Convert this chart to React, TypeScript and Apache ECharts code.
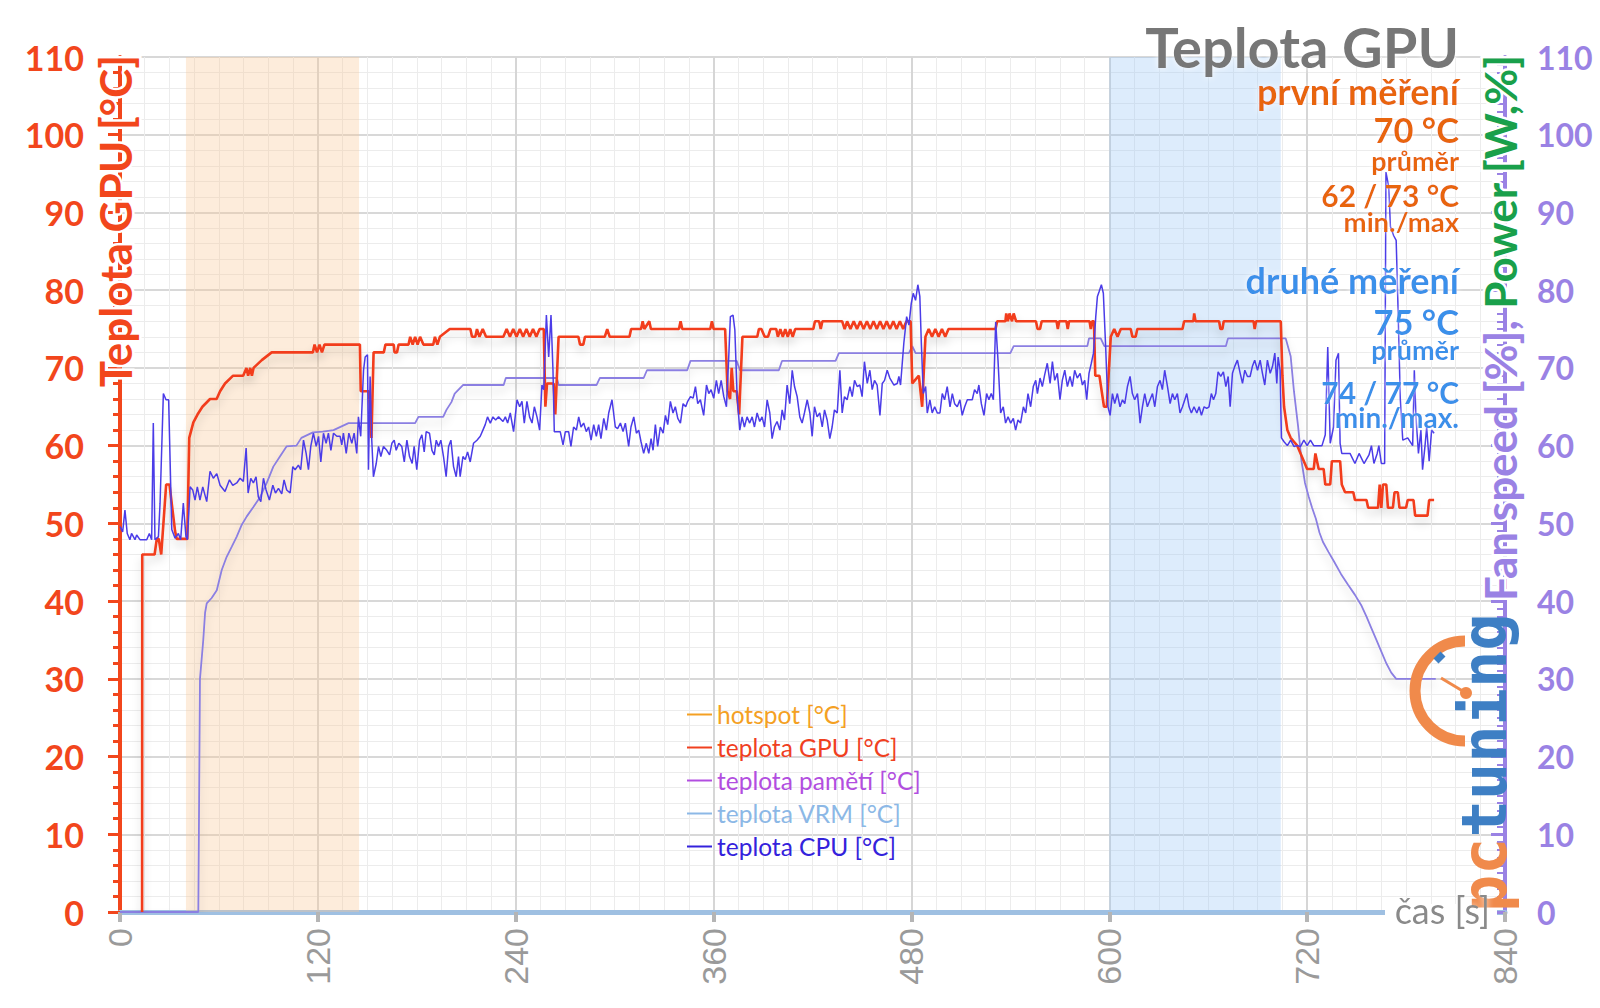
import React, { useEffect, useRef } from "react";
import * as echarts from "echarts";

// ---- axes ----
const X_MIN = 0;
const X_MAX = 840;
const X_STEP = 120;
const Y_MIN = 0;
const Y_MAX = 110;
const Y_STEP = 10;

// ---- legend ----
const legendNames = ["hotspot [°C]", "teplota GPU [°C]", "teplota pamětí [°C]", "teplota VRM [°C]", "teplota CPU [°C]"];
const legendColors = ["#f4a023", "#f0401f", "#b24ee0", "#8cb8e6", "#3422dc"];
const fanName = "otáčky ventilátoru [%]";

// ---- measurement windows [s] ----
const firstWindow = [40, 145];
const secondWindow = [600, 704];

// ---- series: [time s, value] ----
const gpuTemp: [number, number][] = [
  [13.4, 0], [13.5, 46], [21, 46], [22.3, 48], [23.5, 48], [25, 46], [28, 55], [30, 55], [33.4, 49], [34.4, 48], [40.8, 48],
  [42, 61], [44.5, 63], [47, 64], [50, 65], [54.6, 66], [58.6, 66], [60.7, 67], [63.7, 68], [68.6, 69], [74.7, 69], [76.7, 70],
  [77.7, 69], [79, 70], [80, 69], [81, 70], [86, 71], [92, 72], [117, 72], [118, 73], [119.5, 72], [121, 73], [122.5, 72], [124, 73],
  [145.5, 73], [146, 67], [151, 67], [152.5, 61], [153.8, 72], [160, 72], [161, 73], [166, 73], [166.5, 72], [168, 72], [169, 73],
  [175, 73], [176, 74], [177.5, 73], [179, 74], [180.5, 73], [182, 74], [184, 73], [190, 73], [191, 74], [192.5, 73], [194, 74],
  [200, 75], [212.5, 75], [213.5, 74], [215.5, 74], [216.5, 75], [218, 74], [220, 75], [222, 74], [232.5, 74], [234.5, 75],
  [236.5, 74], [238.5, 75], [240.5, 74], [242.5, 75], [244.5, 74], [246.5, 75], [248.5, 74], [250.5, 75], [252.5, 74], [254.5, 75],
  [257, 75], [258, 65], [259, 68], [263, 68], [264, 64], [266, 74], [278, 74], [279, 73], [281, 73], [282, 74], [294, 74],
  [295.5, 75], [297, 74], [309, 74], [310, 75], [316, 75], [317, 76], [318, 75], [321, 76], [322, 75], [339, 75], [340, 76],
  [341, 75], [358, 75], [359, 76], [360, 75], [367, 75], [368.5, 67], [370, 66], [371, 70], [372, 67], [374, 67], [375.5, 64],
  [377.5, 74], [386.5, 74], [387.5, 75], [389, 75], [391, 74], [393, 74], [394.5, 75], [398, 75], [399, 74], [400.5, 75],
  [402, 74], [403.5, 75], [405, 74], [406.5, 75], [408, 74], [409.5, 75], [420.5, 75], [421.5, 76], [424, 76], [425, 75],
  [426, 76], [438, 76], [439.5, 75], [441, 76], [443, 75], [445, 76], [447, 75], [449, 76], [451, 75], [453, 76], [455, 75],
  [457, 76], [459, 75], [461, 76], [463, 75], [465, 76], [467, 75], [469, 76], [471, 75], [473, 76], [475, 75], [477, 76],
  [479.5, 76], [480.5, 68], [484.5, 69], [486.5, 65], [488.5, 74], [490.5, 75], [492.5, 74], [494.5, 75], [496.5, 74],
  [498.5, 75], [500.5, 74], [502.5, 75], [531, 75], [532, 76], [537, 76], [537.5, 77], [538.5, 76], [539.5, 77], [541, 76],
  [542, 77], [543.5, 76], [555.5, 76], [556.5, 75], [558, 75], [559, 76], [568, 76], [568.8, 75], [569.6, 76], [574, 76],
  [574.8, 75], [575.6, 76], [588, 76], [588.8, 75], [589.6, 76], [590.7, 76], [591.5, 69], [594, 69], [596.8, 65], [598.5, 65],
  [600.9, 74], [603, 75], [605, 74], [607, 75], [613, 75], [614, 74], [616, 74], [617, 75], [644.4, 75], [645.4, 76], [651, 76],
  [651.5, 77], [652.3, 76], [666.6, 76], [667.4, 75], [668.6, 75], [669.4, 76], [687.5, 76], [688.2, 75], [689, 76], [704, 76],
  [705, 69], [706, 65], [708, 62], [710, 61], [712, 60.5], [714, 60], [716, 59], [718, 58], [720, 57], [724, 57], [725, 59],
  [727, 57], [730, 57], [731, 55], [734, 55], [735, 58], [740, 58], [741, 55], [743, 54], [748, 54], [749, 53], [756, 53],
  [757, 52], [763, 52], [764, 55], [765, 52], [766, 55], [768, 55], [769, 52], [772, 52], [773, 54], [775, 54], [776, 52],
  [780, 52], [781, 53], [784.5, 53], [785.5, 51], [793, 51], [794, 53], [797, 53],
];

const cpuTemp: [number, number][] = [
  [0, 49.6], [1.6, 48.9], [3, 51.7], [4.4, 48.7], [6, 47.9], [7, 48.7], [9.1, 47.9], [10.1, 48.5], [12.1, 47.9], [16.2, 47.9],
  [17.8, 48.7], [19.2, 47.9], [20.2, 62.9], [21.2, 47.9], [23.3, 48.3], [24.3, 52.6], [26.3, 66.7], [27.9, 65.9], [29.5, 65.9],
  [31.4, 49.2], [33.4, 48.1], [35.4, 48.7], [36.8, 47.9], [38.4, 52.6], [40, 48.3], [40.9, 47.9], [42.5, 54.7], [44.1, 54.3],
  [45.5, 53], [46.9, 54.7], [48.5, 53], [50.2, 54.7], [52.6, 52.8], [54.6, 56.7], [56.6, 55.8], [58.7, 56.4], [60.7, 54.9],
  [63.7, 54.1], [66.4, 55.6], [68.4, 54.9], [70.8, 55.2], [72.8, 55.8], [74.8, 55.4], [76.5, 59.7], [77.7, 53.9], [79.3, 55.8],
  [80.9, 55.2], [82.5, 56], [83.9, 53.4], [85.4, 52.8], [87, 55.8], [88.6, 54.3], [90.6, 53], [92.7, 54.9], [94.3, 53.9],
  [96.1, 54.5], [98.1, 53.8], [99.5, 55.6], [101.1, 54.3], [103.2, 53.9], [104.8, 57.3], [106.2, 56.9], [108.2, 57.5],
  [109.6, 56.9], [111.3, 60.7], [112.9, 59], [114.3, 56.9], [115.7, 59.9], [117.3, 61.6], [119, 59.9], [120.4, 61.2],
  [121.8, 57.9], [123.4, 61.6], [125, 60.3], [126.4, 61.6], [127.9, 59.4], [129.5, 61.6], [131.5, 61.2], [133.5, 61.2],
  [134.5, 60.1], [135.5, 61.6], [137.2, 59], [138.8, 61.6], [140.6, 60.3], [142, 61.6], [143.6, 59], [144.6, 63.7], [146, 61.2],
  [147.7, 69.7], [148.7, 71.4], [150.1, 71.7], [150.7, 56.9], [151.7, 68.9], [152.7, 60.7], [153.7, 56], [155.4, 57.7],
  [156.8, 59.9], [158.2, 58.6], [159.8, 59.9], [161.8, 59.4], [163.5, 58.8], [164.9, 60.3], [166.3, 60.7], [167.5, 59.4],
  [169.1, 60.3], [170.9, 59.9], [172.4, 57.9], [174, 60.7], [175.6, 58.6], [177.2, 57.7], [178.4, 59.9], [180, 56.9],
  [181.7, 60.7], [183.1, 61.4], [184.5, 59.2], [185.7, 61.8], [187.7, 61.6], [189.2, 59.4], [190.6, 58.8], [191.8, 60.7],
  [193.2, 59.9], [194.6, 60.7], [196.2, 58.6], [197.8, 56], [199.3, 59.9], [200.7, 60.7], [202.3, 57.3], [203.9, 56],
  [205.3, 58.6], [206.3, 56], [208, 58.6], [209.4, 58.2], [210.8, 59.2], [212.4, 57.9], [214.4, 60.3], [216.5, 60.7],
  [218.5, 61.2], [220.1, 62], [221.5, 62.7], [222.9, 63.7], [224.6, 62.9], [226.2, 63.7], [227.8, 63.3], [229.6, 63.7],
  [232.3, 63.1], [233.7, 63.7], [235.1, 62.9], [236.7, 64.2], [238.7, 61.8], [240.8, 65.9], [242.4, 65], [243.8, 65.7],
  [245.2, 62.9], [246.8, 65.7], [248.4, 63.7], [249.9, 62.9], [251.3, 65], [252.9, 63.7], [254.5, 62], [255.9, 67.8],
  [257, 67.2], [258.6, 76.8], [260, 71.4], [261.4, 76.8], [262.6, 69.7], [263.4, 61.8], [265, 61.8], [267, 61.8], [268.7, 60.1],
  [270.1, 61.8], [272.1, 61.8], [273.5, 59.9], [275.1, 62.4], [276.8, 62], [278.2, 63.7], [279.6, 62.4], [281.2, 62.9],
  [282.8, 61.8], [284.2, 62.4], [285.7, 60.7], [287.3, 62.7], [288.9, 61.2], [290.3, 62.7], [291.7, 60.9], [293.4, 63.5],
  [295, 62], [296.4, 64.2], [298.4, 65.9], [300.4, 62.4], [301.8, 62.2], [303.5, 62.9], [305.1, 61.8], [306.5, 62.9],
  [308.5, 59.9], [309.9, 62.4], [311.6, 63.7], [313.2, 61.6], [314.6, 62], [316, 60.5], [317.6, 59], [319.2, 60.3], [320.7, 59],
  [322.1, 60.9], [323.3, 59.4], [324.7, 62.7], [326.1, 59.9], [327.7, 62.4], [329.4, 61.6], [330.8, 63.9], [332.2, 62.7],
  [333.8, 65.7], [335.4, 64.2], [336.8, 65], [338.3, 63.5], [339.9, 62.9], [341.5, 65.4], [343.1, 65], [344.3, 65.7],
  [346, 66.3], [347.6, 66.1], [349, 67.6], [350.4, 65.4], [352, 65.9], [354, 63.9], [355.7, 67.8], [357.1, 66.7], [358.5, 67.2],
  [360.1, 66.1], [361.7, 68.4], [363.1, 66.7], [364.6, 68.4], [366.2, 66.3], [367.8, 65], [369.2, 71.4], [370.2, 76.6],
  [371.8, 76.8], [372.9, 74.9], [374.3, 66.3], [375.9, 62], [377.3, 63.7], [378.7, 62.4], [380.3, 63.7], [381.9, 62.9],
  [383.4, 63.7], [384.8, 62.4], [386.4, 64.2], [388, 63.1], [389.4, 63.7], [390.9, 62.4], [392.5, 65.9], [394.1, 64.2],
  [395.5, 60.9], [396.9, 62.4], [398.5, 63.1], [400.2, 62], [401.6, 64.6], [403, 63.3], [404.6, 67.8], [406.2, 65.4],
  [407.7, 69.7], [409.1, 67.6], [410.7, 66.3], [412.3, 63.7], [413.7, 62.9], [415.1, 64.2], [416.8, 65.9], [418.4, 64.2],
  [419.8, 61.2], [421.2, 65], [422.8, 63.7], [424.4, 64.2], [425.9, 62.4], [427.3, 64.6], [428.9, 63.3], [430.5, 60.9],
  [431.9, 62.4], [433.3, 64.6], [435, 64.2], [436.6, 69.7], [438, 64.2], [439.4, 66.3], [441, 65.9], [442.7, 67.6],
  [444.1, 66.3], [445.5, 68.4], [447.1, 67.6], [448.7, 67.8], [450.1, 66.3], [451.5, 70.8], [453.2, 68], [454.8, 69.7],
  [456.2, 67.2], [457.6, 68.4], [459.2, 67.8], [460.9, 63.9], [462.3, 68], [463.7, 68.4], [465.3, 69.7], [466.9, 68.7],
  [469.4, 67.8], [471.4, 68], [472.4, 68.9], [473.4, 67.8], [475.4, 73.2], [477.1, 76.6], [478.5, 75.5], [479.9, 78.3],
  [481.1, 79.6], [482.5, 78.7], [483.9, 80.7], [485.1, 79.2], [486, 73.2], [487.2, 66.7], [488.6, 67.6], [489.6, 64.2],
  [491.2, 65.9], [492.6, 64.2], [494.1, 65], [495.7, 64.2], [497.3, 64.2], [498.7, 66.7], [500.1, 65.9], [501.7, 67.6],
  [503.4, 65], [504.8, 66.7], [506.2, 65.4], [507.8, 65], [509.4, 65.9], [510.8, 63.9], [512.3, 65], [513.9, 65.9],
  [516.9, 65.9], [518.3, 67.2], [519.9, 66.7], [520.9, 67.8], [522.4, 65.4], [524, 63.9], [525.6, 66.7], [527, 65.9],
  [528.4, 66.7], [529.7, 65.9], [531.1, 75.9], [532.5, 71], [534.1, 64.2], [535.7, 65], [537.1, 62.9], [538.6, 63.7],
  [540.2, 62.9], [541.8, 63.5], [543.2, 62], [544.6, 63.3], [546.2, 62.9], [547.9, 65], [549.3, 64.2], [550.7, 66.7],
  [552.3, 65], [553.9, 67.6], [555.4, 68.4], [556.4, 66.7], [558, 68.7], [559.4, 67.6], [560.8, 69.1], [562.4, 70.6],
  [564.1, 68], [565.5, 70.8], [566.9, 68.4], [568.5, 69.3], [570.1, 65.9], [571.5, 68.4], [573, 69.7], [574.6, 67.6],
  [576.2, 68.9], [577.6, 67.6], [579, 69.7], [580.6, 68.7], [582.3, 69.3], [583.7, 67.8], [585.1, 68.4], [586.3, 65.9],
  [587.7, 69.3], [589.1, 70.6], [590.4, 71.9], [591.8, 76.6], [592.8, 79.2], [593.8, 79.8], [595.2, 80.7], [596.4, 79.6],
  [597.8, 72.7], [599.2, 65], [600.5, 63.9], [601.9, 66.7], [603.3, 65.4], [604.9, 66.7], [606.5, 65], [608, 65.9],
  [609.4, 65.4], [611, 67.6], [612.6, 68.9], [614, 66.7], [615.4, 65.9], [617.1, 66.7], [618.7, 62.9], [620.1, 65],
  [621.5, 66.7], [623.1, 65], [624.7, 65.9], [626.2, 66.7], [627.6, 65], [629.2, 67.6], [630.8, 68.4], [632.2, 67.2],
  [633.6, 69.7], [635.3, 67.6], [636.9, 65.4], [638.3, 66.7], [639.7, 65.9], [641.3, 66.7], [642.9, 64.2], [644.4, 65],
  [645.8, 65.9], [647, 66.7], [648.4, 65], [649.8, 64.2], [651.4, 65], [653.1, 64.2], [654.5, 65], [655.9, 63.9], [657.5, 65],
  [659.1, 64.8], [660.5, 65], [661.9, 66.7], [663.2, 65.9], [664.6, 66.7], [666, 69.5], [667.6, 68.9], [669.2, 69.5],
  [670.7, 67.6], [672.1, 68.9], [673.3, 65], [674.7, 69.3], [676.1, 70.2], [677.7, 71], [679.4, 69.3], [680.8, 68],
  [682.2, 69.7], [683.8, 68.9], [685.4, 68.9], [686.8, 70.2], [688.2, 71], [689.9, 69.7], [691.5, 71], [692.9, 69.3],
  [694.3, 67.8], [695.9, 71], [697.6, 69.3], [699, 70.2], [700.4, 71.9], [701.6, 68], [702.4, 71.4], [703.6, 69.7],
  [704.4, 61], [706, 60.5], [708, 60], [710, 60.7], [712, 59.9], [714, 60], [716, 59.9], [718, 60.7], [720, 60], [722, 60.7],
  [724, 60], [727, 60], [729, 60], [731, 61.4], [732.5, 72.7], [734, 60.3], [736, 62.4], [737.5, 71], [739, 71.9], [740, 60.3],
  [741, 59], [746, 59], [749, 57.7], [751.5, 59], [754.5, 57.7], [757.5, 58.8], [759, 60], [760.5, 57.7], [762.5, 59],
  [763.5, 60], [765, 57.7], [767, 57.7], [767.8, 95.2], [769.5, 93.3], [770.5, 88.2], [772.5, 87], [774, 86.4], [775, 78.7],
  [776.5, 66], [778, 60.7], [781, 61], [784, 60], [785, 69.7], [786, 63.7], [787.5, 59], [789, 62], [790, 56.9], [791.5, 60],
  [792.5, 62.4], [794, 58], [795.5, 62], [797, 61.6],
];

const fanSpeed: [number, number][] = [
  [0, 0], [47.5, 0], [48.5, 30], [50.5, 35], [51.6, 38.5], [52.6, 39.7], [55.6, 40.4], [58.7, 41.4], [61.7, 44], [64.7, 45.7],
  [67.8, 47], [70.8, 48.3], [73.8, 49.8], [76.9, 50.9], [80.9, 52.1], [85, 53.4], [89, 55.2], [93, 57.3], [97, 58.6],
  [101, 59.9], [107, 60], [110, 61], [117, 61.7], [123, 61.8], [129.5, 62], [138.6, 62.9], [179, 62.9], [181, 63.7], [196, 63.7],
  [198, 64.6], [201, 65.6], [203, 66.7], [208, 67.8], [232.7, 67.8], [234, 68.7], [265, 68.7], [266, 67.8], [289, 67.8],
  [291, 68.7], [317.6, 68.7], [319.6, 69.7], [344, 69.7], [346, 70.9], [374, 70.9], [376, 69.7], [399.6, 69.7], [401.5, 70.9],
  [434, 70.9], [436, 71.9], [478.5, 71.9], [480.5, 72.8], [482.5, 71.9], [540, 71.9], [542, 72.8], [586.7, 72.8],
  [587.7, 73.8], [594.8, 73.8], [597, 72.8], [670.7, 72.8], [672, 73.8], [707, 73.8], [710, 71.5], [712, 67], [714.5, 62.5],
  [716.6, 58], [718.7, 55.2], [721, 53.4], [723, 52], [725.3, 50.6], [727.5, 48.8], [729.6, 47.6], [733, 46.3], [736.3, 45.1],
  [740.5, 43.5], [744.8, 42.1], [749, 40.8], [753, 39.4], [756, 38], [759, 36.5], [762, 35], [765, 33.5], [768, 32],
  [771, 30.8], [774, 30], [798, 30],
];

const RED = "#f2461c";
const PURPLE = "#9a82e4";
const ORANGE_TXT = "#e8650e";
const BLUE_TXT = "#3a90ea";
const FONT = "Lato";

const halo = { textShadowColor: "rgba(255,255,255,0.95)", textShadowBlur: 6 };
const outline = { stroke: "#ffffff", lineWidth: 5, strokeFirst: true };

function infoText(text: string, y: number, size: number, color: string) {
  return {
    type: "text",
    x: 1459,
    y,
    z: 100,
    style: {
      text,
      fill: color,
      fontSize: size,
      fontWeight: "bold",
      fontFamily: FONT,
      align: "right",
      verticalAlign: "middle",
      ...halo,
    },
  };
}

export default function App() {
  const ref = useRef<HTMLDivElement>(null);

  useEffect(() => {
    if (!ref.current) return;
    const chart = echarts.init(ref.current, null, { renderer: "svg" });
    const lineShadow = { shadowColor: "rgba(0,0,0,0.16)", shadowBlur: 8, shadowOffsetY: 6 };

    const option: any = {
      animation: false,
      backgroundColor: "#ffffff",
      grid: { left: 120, right: 95, top: 57, bottom: 96, containLabel: false },
      legend: {
        orient: "vertical",
        left: 682,
        top: 697,
        itemWidth: 25,
        itemHeight: 2,
        itemGap: 8,
        icon: "rect",
        selectedMode: false,
        textStyle: { fontSize: 24.5, fontFamily: FONT },
        data: legendNames.map((n, i) => ({ name: n, textStyle: { color: legendColors[i] } })),
      },
      xAxis: {
        type: "value",
        min: X_MIN,
        max: X_MAX,
        interval: X_STEP,
        axisLine: { show: true, onZero: false, lineStyle: { color: "#9fc0e2", width: 5 } },
        axisTick: { show: true, length: 10, lineStyle: { color: "#b5b5b5", width: 4 } },
        axisLabel: { rotate: 90, margin: 16, color: "#9a9a9a", fontSize: 34, fontFamily: "Liberation Sans" },
        splitLine: { show: true, lineStyle: { color: "#d6d6d6", width: 2 } },
        minorTick: { show: false, splitNumber: 8 },
        minorSplitLine: { show: true, lineStyle: { color: "#ececec", width: 1 } },
      },
      yAxis: [
        {
          type: "value",
          min: Y_MIN,
          max: Y_MAX,
          interval: Y_STEP,
          position: "left",
          axisLine: { show: true, lineStyle: { color: RED, width: 4 } },
          axisTick: { show: true, length: 12, lineStyle: { color: RED, width: 3 } },
          minorTick: { show: true, splitNumber: 5, length: 7, lineStyle: { color: RED, width: 3 } },
          axisLabel: { color: RED, fontSize: 34, fontWeight: "bold", fontFamily: FONT, margin: 36 },
          splitLine: { show: true, lineStyle: { color: "#d8d8d8", width: 2 } },
          minorSplitLine: { show: true, lineStyle: { color: "#ececec", width: 1 } },
        },
        {
          type: "value",
          min: Y_MIN,
          max: Y_MAX,
          interval: Y_STEP,
          position: "right",
          axisLine: { show: true, lineStyle: { color: PURPLE, width: 4 } },
          axisTick: { show: true, inside: true, length: 14, lineStyle: { color: PURPLE, width: 3 } },
          minorTick: { show: true, splitNumber: 10, length: 8, lineStyle: { color: PURPLE, width: 2 } },
          axisLabel: { color: PURPLE, fontSize: 32, fontWeight: "bold", fontFamily: FONT, margin: 32 },
          splitLine: { show: false },
          minorSplitLine: { show: false },
        },
      ],
      series: [
        {
          name: fanName,
          type: "line",
          yAxisIndex: 1,
          data: fanSpeed,
          symbol: "none",
          lineStyle: { color: "#8b7fe2", width: 1.8, ...lineShadow },
          itemStyle: { color: "#8b7fe2" },
          markArea: {
            silent: true,
            data: [
              [{ xAxis: firstWindow[0], itemStyle: { color: "rgba(250,200,150,0.34)" } }, { xAxis: firstWindow[1] }],
              [{ xAxis: secondWindow[0], itemStyle: { color: "rgba(150,195,245,0.32)" } }, { xAxis: secondWindow[1] }],
            ],
          },
        },
        { name: legendNames[0], type: "line", data: [], symbol: "none", itemStyle: { color: legendColors[0] }, lineStyle: { color: legendColors[0] } },
        {
          name: legendNames[1],
          type: "line",
          data: gpuTemp,
          symbol: "none",
          itemStyle: { color: legendColors[1] },
          lineStyle: { color: "#f23c1c", width: 2.6, ...lineShadow },
        },
        { name: legendNames[2], type: "line", data: [], symbol: "none", itemStyle: { color: legendColors[2] }, lineStyle: { color: legendColors[2] } },
        { name: legendNames[3], type: "line", data: [], symbol: "none", itemStyle: { color: legendColors[3] }, lineStyle: { color: legendColors[3] } },
        {
          name: legendNames[4],
          type: "line",
          data: cpuTemp,
          symbol: "none",
          itemStyle: { color: legendColors[4] },
          lineStyle: { color: "#4b3ce8", width: 1.5 },
        },
      ],
      graphic: [
        {
          type: "text",
          x: 1459,
          y: 46,
          z: 100,
          style: { text: "Teplota GPU", fill: "#777777", fontSize: 56, fontWeight: "bold", fontFamily: FONT, align: "right", verticalAlign: "middle", ...halo },
        },
        infoText("první měření", 91, 36, ORANGE_TXT),
        infoText("70 °C", 129, 34.5, ORANGE_TXT),
        infoText("průměr", 160, 27, ORANGE_TXT),
        infoText("62 / 73 °C", 195, 30, ORANGE_TXT),
        infoText("min./max", 221, 27.5, ORANGE_TXT),
        infoText("druhé měření", 280, 36, BLUE_TXT),
        infoText("75 °C", 321, 34.5, BLUE_TXT),
        infoText("průměr", 349, 27, BLUE_TXT),
        infoText("74 / 77 °C", 392, 30, BLUE_TXT),
        infoText("min./max.", 417, 28, BLUE_TXT),
        {
          type: "text",
          x: 115,
          y: 55,
          rotation: Math.PI / 2,
          z: 100,
          style: {
            text: "Teplota GPU [°C]",
            fill: RED,
            fontSize: 44,
            fontWeight: "bold",
            fontFamily: FONT,
            align: "right",
            verticalAlign: "middle",
            ...outline,
          },
        },
        {
          type: "text",
          x: 1500,
          y: 55,
          rotation: Math.PI / 2,
          z: 100,
          style: {
            text: "{a|Fan speed [%], }{b|Power [W,%]}",
            align: "right",
            verticalAlign: "middle",
            rich: {
              a: { fill: PURPLE, fontSize: 44, fontWeight: "bold", fontFamily: FONT, ...outline },
              b: { fill: "#19a04b", fontSize: 44, fontWeight: "bold", fontFamily: FONT, ...outline },
            },
          },
        },
        // white gap in the x axis behind the axis name
        { type: "rect", z: 5, shape: { x: 1385, y: 904, width: 112, height: 16 }, style: { fill: "#ffffff" } },
        // pctuning logo
        {
          type: "arc",
          z: 49,
          shape: { cx: 1465, cy: 691, r: 50, startAngle: Math.PI / 2, endAngle: Math.PI * 1.5, clockwise: true },
          style: { stroke: "#f08a4b", lineWidth: 11, fill: "none" },
        },
        { type: "line", z: 49, shape: { x1: 1436, y1: 661, x2: 1443, y2: 654 }, style: { stroke: "#3e7fc4", lineWidth: 7 } },
        { type: "line", z: 49, shape: { x1: 1441, y1: 678, x2: 1466, y2: 693 }, style: { stroke: "#f08a4b", lineWidth: 3 } },
        { type: "circle", z: 49, shape: { cx: 1466, cy: 693, r: 6 }, style: { fill: "#f08a4b" } },
        {
          type: "text",
          x: 1484,
          y: 912,
          rotation: Math.PI / 2,
          z: 50,
          style: {
            text: "{a|pc}{b|tuning}",
            align: "left",
            verticalAlign: "middle",
            rich: {
              a: { fill: "#f08a4b", fontSize: 62, fontWeight: "bold", fontFamily: "DejaVu Sans Mono" },
              b: { fill: "#3e7fc4", fontSize: 62, fontWeight: "bold", fontFamily: "DejaVu Sans Mono" },
            },
          },
        },
        {
          type: "text",
          x: 1490,
          y: 910,
          z: 60,
          style: { text: "čas [s]", fill: "#8a8a8a", fontSize: 36, fontFamily: FONT, align: "right", verticalAlign: "middle", ...halo },
        },
      ],
    };

    chart.setOption(option);
    return () => chart.dispose();
  }, []);

  return (
    <div
      ref={ref}
      style={{ position: "fixed", left: 0, top: 0, width: 1600, height: 1008, background: "#fff" }}
    />
  );
}
